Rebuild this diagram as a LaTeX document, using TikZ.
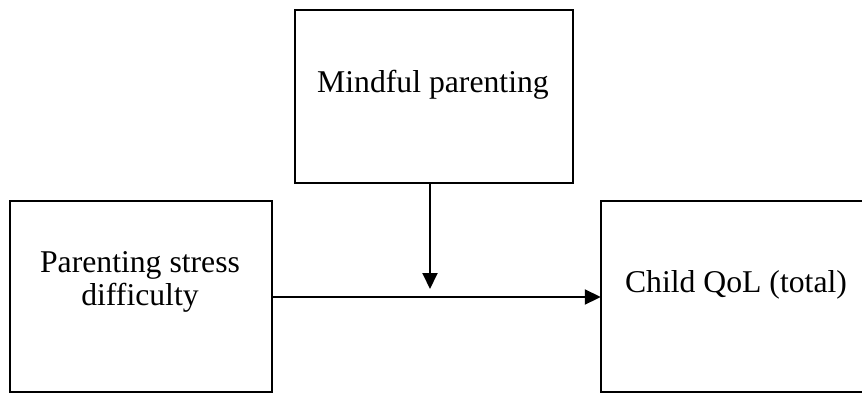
\documentclass[tikz,border=0pt]{standalone}
\usepackage{fontspec}
\setmainfont{Liberation Serif}
\usetikzlibrary{arrows.meta}
\begin{document}
\begin{tikzpicture}[x=1pt,y=-1pt,
  box/.style={draw,line width=1.9pt,inner sep=0pt,outer sep=0pt},
  lbl/.style={anchor=base,inner sep=0pt,font=\fontsize{31.7}{33}\selectfont},
  arr/.style={line width=1.9pt,-{Triangle[length=16pt,width=15pt]}}]
\useasboundingbox (0,0) rectangle (862,394);
\clip (0,0) rectangle (862,394);
\fill[white] (0,0) rectangle (862,394);
% boxes
\draw[box] (295,10) rectangle (573,183);
\node[inner sep=0pt,minimum width=278pt,minimum height=173pt] (mp) at (434,96.5) {};
\draw[box] (10,201) rectangle (272,392);
\node[inner sep=0pt,minimum width=262pt,minimum height=191pt] (ps) at (141,296.5) {};
\draw[box] (601,201) rectangle (900,392);
\node[inner sep=0pt,minimum width=299pt,minimum height=191pt] (cq) at (750.5,296.5) {};
% texts
\node[lbl] (t1) at (433,92) {Mindful parenting};
\node[lbl] (t2) at (140,272) {Parenting stress};
\node[lbl] (t3) at (140,305) {difficulty};
\node[lbl] (t4) at (736,292) {Child QoL (total)};
% connectors
\coordinate (mod) at (430,289);
\draw[arr] (mp.south -| mod) -- (mod);
\draw[arr] (ps.east |- 0,297) -- (cq.west |- 0,297);
\end{tikzpicture}
\end{document}
